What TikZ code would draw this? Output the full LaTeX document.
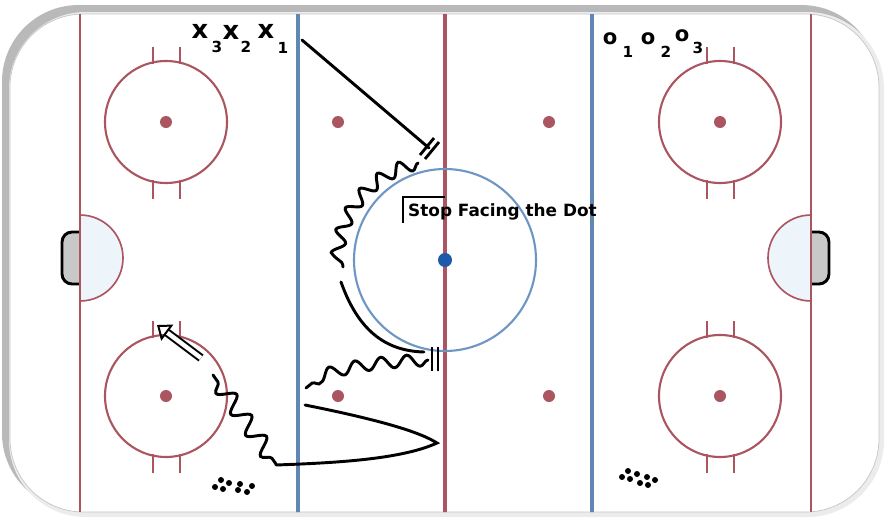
\documentclass[tikz,border=0pt]{standalone}
\usepackage{fontspec}
\setmainfont{DejaVu Sans}
\usetikzlibrary{arrows.meta,decorations.pathmorphing}
\definecolor{rinkred}{RGB}{170,85,95}
\definecolor{rinkblue}{RGB}{95,135,180}
\definecolor{circblue}{RGB}{110,150,195}
\definecolor{dotblue}{RGB}{30,90,170}
\definecolor{creasefill}{RGB}{238,245,250}
\definecolor{goalgray}{RGB}{200,200,200}
\tikzset{
  redline/.style={draw=rinkred, line width=3.4pt},
  blueline/.style={draw=rinkblue, line width=3.4pt},
  goalline/.style={draw=rinkred, line width=1.7pt},
  faceoff/.style={draw=rinkred, line width=1.8pt},
  skate/.style={draw=black, line width=2.5pt, line cap=round},
  puckskate/.style={skate, decorate, decoration={snake, amplitude=5.5pt, segment length=19pt}},
  stopmark/.style={draw=black, line width=2.4pt},
  xplayer/.style={font=\fontsize{22pt}{22pt}\selectfont\bfseries, inner sep=0pt, anchor=base},
  oplayer/.style={font=\fontsize{18pt}{18pt}\selectfont\bfseries, inner sep=0pt, anchor=base},
  pnum/.style={font=\fontsize{13pt}{13pt}\selectfont\bfseries, inner sep=0pt, anchor=base},
}
\begin{document}
\begin{tikzpicture}[x=0.03cm,y=-0.03cm]
\useasboundingbox (0,0) rectangle (886,525);
% boards
\fill[rounded corners=2.3cm, gray!55] (2,5) rectangle (878,510);
\fill[rounded corners=2.3cm, gray!15] (9,12) rectangle (884,517);
\fill[rounded corners=2.2cm, white] (10,14) rectangle (879,512);
\draw[rounded corners=2.2cm, gray!45, line width=0.6pt] (10,14) rectangle (879,512);
\begin{scope}
  \clip[rounded corners=2.2cm] (10,14) rectangle (879,512);
  % creases and goals
  \filldraw[fill=creasefill, draw=rinkred, line width=1.4pt] (80,215) arc[start angle=-90, end angle=90, radius=43] -- cycle;
  \filldraw[fill=creasefill, draw=rinkred, line width=1.4pt] (811,215) arc[start angle=-90, end angle=-270, radius=43] -- cycle;
  \filldraw[fill=goalgray, draw=black, line width=2.5pt, rounded corners=0.3cm] (80,232) -- (62,232) -- (62,284) -- (80,284);
  \filldraw[fill=goalgray, draw=black, line width=2.5pt, rounded corners=0.3cm] (811,232) -- (829,232) -- (829,284) -- (811,284);
  % lines
  \draw[goalline] (80,0) -- (80,525);
  \draw[goalline] (811,0) -- (811,525);
  \draw[blueline] (298,0) -- (298,525);
  \draw[blueline] (592,0) -- (592,525);
  \draw[redline] (445,0) -- (445,525);
\end{scope}
% faceoff circles
\foreach \cx/\cy in {166/122,166/396,720/122,720/396}{
  \draw[faceoff] (\cx,\cy) circle[radius=61];
  \draw[faceoff] (\cx-13,\cy-75) -- (\cx-13,\cy-58) (\cx+14,\cy-75) -- (\cx+14,\cy-58);
  \draw[faceoff] (\cx-13,\cy+58) -- (\cx-13,\cy+77) (\cx+14,\cy+58) -- (\cx+14,\cy+77);
  \fill[rinkred] (\cx,\cy) circle[radius=6];
}
\foreach \cx/\cy in {338/122,549/122,338/396,549/396}
  \fill[rinkred] (\cx,\cy) circle[radius=6];
% centre
\draw[draw=circblue, line width=1.8pt] (445,260) circle[radius=91];
\fill[dotblue] (445,260) circle[radius=7];
% players
\node[xplayer] (x3) at (200,38) {x};
\node[pnum] (x3n) at (217,52) {3};
\node[xplayer] (x2) at (231,39) {x};
\node[pnum] (x2n) at (246,52) {2};
\node[xplayer] (x1) at (266,38) {x};
\node[pnum] (x1n) at (283,53) {1};
\node[oplayer] (o1) at (610,44) {o};
\node[pnum] (o1n) at (628,57) {1};
\node[oplayer] (o2) at (648,44) {o};
\node[pnum] (o2n) at (666,57) {2};
\node[oplayer] (o3) at (682,41) {o};
\node[pnum] (o3n) at (698,53) {3};
% label
\node[anchor=base west, inner sep=0pt, font=\fontsize{14.4pt}{16pt}\selectfont\bfseries] (stoptext) at (408,216) {Stop Facing the Dot};
\draw[skate, line cap=butt] (403,223) |- (445,197);
% skater path
\coordinate (start) at (302,40);
\coordinate (stopa) at (429,148);
\draw[skate] (start) -- (stopa);
\draw[stopmark] (439,142) -- (425,159) (434,138) -- (420,155);
\draw[puckskate] (418,163) .. controls (371,175) and (340,219) .. (343,267);
\draw[skate] (341,282) .. controls (358,330) and (385,351) .. (424,352);
\draw[stopmark] (432,347) -- (432,371) (438,347) -- (438,371);
\draw[puckskate, decoration={segment length=22pt, amplitude=5pt}] (428,360) .. controls (380,362) and (330,368) .. (306,388);
\draw[skate] (305,405) .. controls (380,420) and (420,432) .. (437,443) .. controls (400,460) and (330,463) .. (276,465);
\draw[puckskate, decoration={segment length=22pt, amplitude=7pt, pre length=6pt, post length=6pt}] (276,464) -- (213,375);
% pass
\draw[double distance=3.8pt, line width=1.7pt, -{Triangle[open, length=11pt, width=17pt]}] (201,358) -- (157,325);
% pucks
\foreach \px/\py in {215/487,221/480,223/489,229/483,238/490,240/484,247/492,252/486}
  \fill (\px,\py) circle[radius=3];
\foreach \px/\py in {622/477,628/471,630/479,637/474,640/483,647/477,648/485,655/480}
  \fill (\px,\py) circle[radius=3];
\end{tikzpicture}
\end{document}
